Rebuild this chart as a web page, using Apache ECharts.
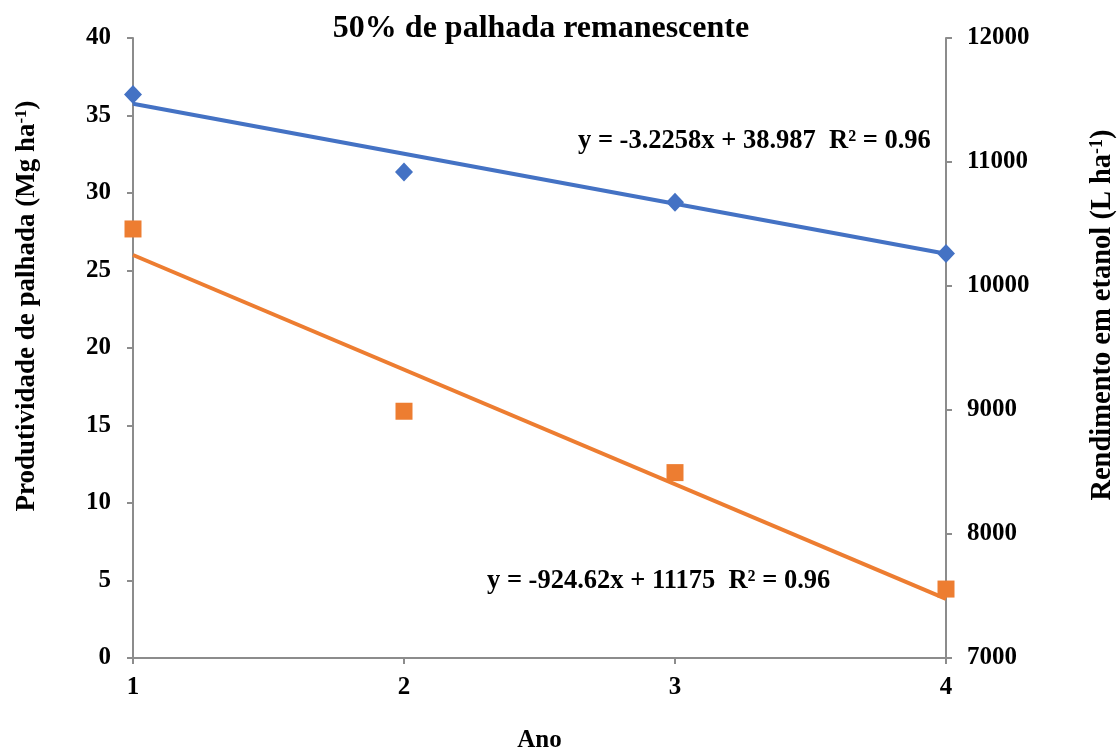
<!DOCTYPE html>
<html>
<head>
<meta charset="utf-8">
<script src="https://cdn.jsdelivr.net/npm/echarts@6/dist/echarts.min.js"></script>
<style>
html,body{margin:0;padding:0;background:#fff;}
#c{width:1118px;height:751px;}
</style>
</head>
<body>
<div id="c"></div>
<script>
// Data
var anos = [1, 2, 3, 4];
var palhada = [36.35, 31.35, 29.4, 26.1];          // Mg ha-1 (left axis)
var etanol = [10460, 8990, 8495, 7556];             // L ha-1 (right axis)
var trendAnos = [1, 4];
var palhadaTrend = [35.76, 26.08];                  // fitted line end values
var etanolTrend = [10250, 7477];
var leftTicks = {min: 0, max: 40, interval: 5};
var rightTicks = {min: 7000, max: 12000, interval: 1000};
var eqPalhada = 'y = -3.2258x + 38.987  R² = 0.96';
var eqEtanol = 'y = -924.62x + 11175  R² = 0.96';
var titulo = '50% de palhada remanescente';
var nomeX = 'Ano';
var nomeEsq = ['Produtividade de palhada (Mg ha', '-1', ')'];
var nomeDir = ['Rendimento em etanol (L ha', '-1', ')'];

function pairs(xs, ys){ return xs.map(function(x,i){ return [x, ys[i]]; }); }

var FONT = '"Liberation Serif", "Times New Roman", serif';
var AX = '#8c8c8c';
var BLUE = '#4472C4';
var ORANGE = '#ED7D31';
var TICKFS = 25;

function richName(fs){
  return {
    a: {fontFamily: FONT, fontWeight: 'bold', fontSize: fs, fill: '#000', color: '#000'},
    s: {fontFamily: FONT, fontWeight: 'bold', fontSize: Math.round(fs * 0.63), fill: '#000', color: '#000', verticalAlign: 'top', padding: [0,0,10,0]}
  };
}

var chart = echarts.init(document.getElementById('c'));
chart.setOption({
  animation: false,
  backgroundColor: '#ffffff',
  title: {
    text: titulo,
    left: 536, top: 8, textAlign: 'center',
    textStyle: {fontFamily: FONT, fontWeight: 'bold', fontSize: 32, color: '#000'}
  },
  grid: {left: 133, right: 172, top: 38, bottom: 93, containLabel: false, outerBoundsMode: 'none'},
  xAxis: {
    type: 'value', min: 1, max: 4, interval: 1,
    name: nomeX, nameLocation: 'middle', nameGap: 70,
    nameTextStyle: {fontFamily: FONT, fontWeight: 'bold', fontSize: 25, color: '#000'},
    axisLine: {lineStyle: {color: AX, width: 2}},
    axisTick: {show: true, length: 6, lineStyle: {color: AX, width: 2}},
    axisLabel: {fontFamily: FONT, fontWeight: 'bold', fontSize: TICKFS, color: '#000', margin: 17},
    splitLine: {show: false}
  },
  yAxis: [{
    type: 'value', min: leftTicks.min, max: leftTicks.max, interval: leftTicks.interval,
    position: 'left',
    axisLine: {show: true, lineStyle: {color: AX, width: 2}},
    axisTick: {show: true, length: 6, lineStyle: {color: AX, width: 2}},
    axisLabel: {fontFamily: FONT, fontWeight: 'bold', fontSize: TICKFS, color: '#000', margin: 22},
    splitLine: {show: false}
  }, {
    type: 'value', min: rightTicks.min, max: rightTicks.max, interval: rightTicks.interval,
    position: 'right',
    axisLine: {show: true, lineStyle: {color: AX, width: 2}},
    axisTick: {show: true, length: 6, lineStyle: {color: AX, width: 2}},
    axisLabel: {fontFamily: FONT, fontWeight: 'bold', fontSize: TICKFS, color: '#000', margin: 21,
      formatter: function(v){ return String(v); }},
    splitLine: {show: false}
  }],
  series: [{
    type: 'line', yAxisIndex: 0, data: pairs(trendAnos, palhadaTrend),
    showSymbol: false, symbol: 'none', lineStyle: {color: BLUE, width: 4}, z: 2
  }, {
    type: 'line', yAxisIndex: 1, data: pairs(trendAnos, etanolTrend),
    showSymbol: false, symbol: 'none', lineStyle: {color: ORANGE, width: 4}, z: 2
  }, {
    type: 'scatter', yAxisIndex: 0, data: pairs(anos, palhada),
    symbol: 'diamond', symbolSize: [18, 19], itemStyle: {color: BLUE, opacity: 1}, z: 3
  }, {
    type: 'scatter', yAxisIndex: 1, data: pairs(anos, etanol),
    symbol: 'rect', symbolSize: 17, itemStyle: {color: ORANGE, opacity: 1}, z: 3
  }],
  graphic: [{
    type: 'text', left: 578, top: 128,
    style: {text: eqPalhada, font: 'bold 26.5px ' + FONT, fill: '#000'}
  }, {
    type: 'text', left: 487, top: 568,
    style: {text: eqEtanol, font: 'bold 26.5px ' + FONT, fill: '#000'}
  }, {
    type: 'text', x: 27, y: 306, rotation: Math.PI / 2,
    style: {text: '{a|' + nomeEsq[0] + '}{s|' + nomeEsq[1] + '}{a|' + nomeEsq[2] + '}',
      rich: richName(27), align: 'center', verticalAlign: 'middle'}
  }, {
    type: 'text', x: 1103, y: 315, rotation: Math.PI / 2,
    style: {text: '{a|' + nomeDir[0] + '}{s|' + nomeDir[1] + '}{a|' + nomeDir[2] + '}',
      rich: richName(28.5), align: 'center', verticalAlign: 'middle'}
  }]
});
</script>
</body>
</html>
